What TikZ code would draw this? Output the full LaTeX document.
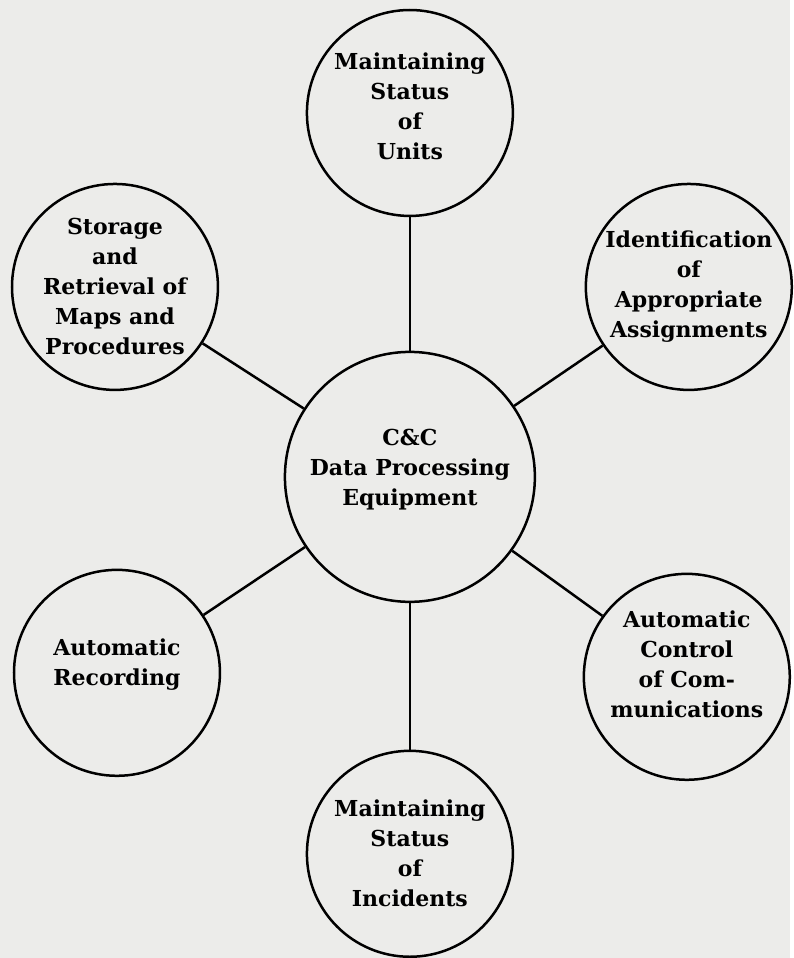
\documentclass[tikz,border=0pt]{standalone}
\usepackage{fontspec}
\setmainfont{DejaVu Serif}
\usetikzlibrary{arrows}
\definecolor{paper}{RGB}{236,236,234}

\begin{document}
\begin{tikzpicture}[x=1pt, y=-1pt,
	every node/.style={circle, draw, line width=2.5pt, align=center, inner sep=0pt,
		font=\bfseries\fontsize{22}{30}\selectfont},
	sat/.style={minimum size=206pt},
	hub/.style={minimum size=250pt}]
\fill[paper] (0,0) rectangle (790,958);
\node[hub, text depth=19pt] (cdp) at (410,477) {C\&C\\Data Processing\\Equipment};
\node[sat, text depth=13pt] (units) at (410,113) {Maintaining\\Status\\of\\Units};
\node[sat] (store) at (115,287) {Storage\\and\\Retrieval of\\Maps and\\Procedures};
\node[sat] (ident) at (689,287) {Identification\\of\\Appropriate\\Assignments};
\node[sat, text depth=22pt] (record) at (117,673) {Automatic\\Recording};
\node[sat, text depth=25pt] (comm) at (687,677) {Automatic\\Control\\of Com-\\munications};
\node[sat] (incid) at (410,854) {Maintaining\\Status\\of\\Incidents};
\path[line width=2.5pt]
(cdp) edge (units)
(cdp) edge (store)
(cdp) edge (ident)
(cdp) edge (record)
(cdp) edge (comm)
(cdp) edge (incid)
;
\end{tikzpicture}
\end{document}
